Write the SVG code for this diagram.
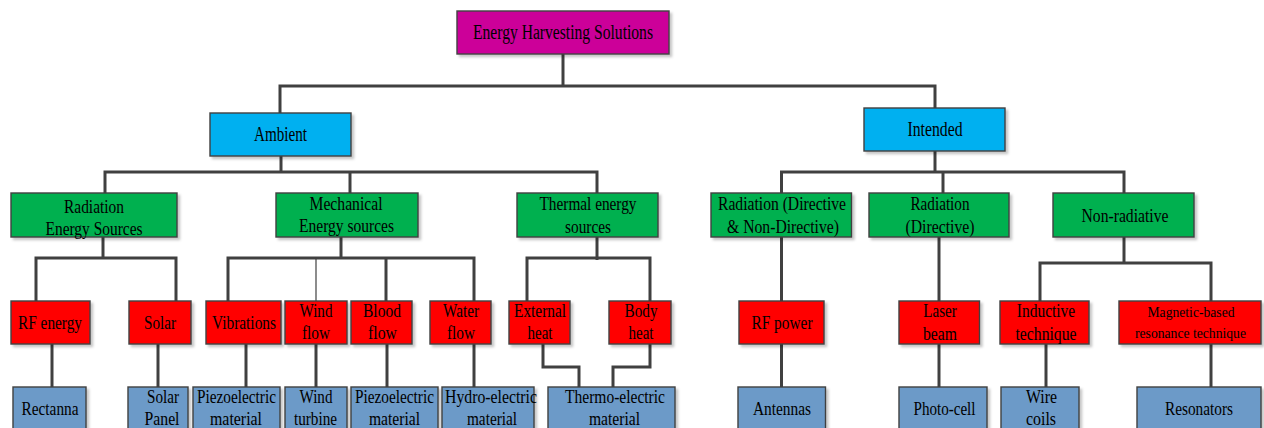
<svg xmlns="http://www.w3.org/2000/svg" width="1264" height="428" viewBox="0 0 1264 428">
<defs>
<filter id="sh" x="-10%" y="-10%" width="130%" height="140%">
<feDropShadow dx="2.5" dy="2.5" stdDeviation="1.2" flood-color="#000" flood-opacity="0.22"/>
</filter>
<style>
rect{stroke:#404040;stroke-width:1.4;filter:url(#sh)}
.m{fill:#CC0099}.c{fill:#00B0F0}.g{fill:#00B050}.r{fill:#FF0000}.b{fill:#6C9AC8}
text{font-family:"Liberation Serif","Times New Roman",serif;font-size:19px;fill:#000;text-anchor:middle}
.t1{font-size:20px}.t2{font-size:20px}.sm{font-size:14.5px}
#connectors path{fill:none;stroke:#404040;stroke-width:3}
#connectors path.thin{stroke-width:1.2}
</style>
</defs>
<rect x="0" y="0" width="1264" height="428" fill="#fff" style="stroke:none;filter:none"/>
<g id="connectors">
<path d="M563,54 V86"/>
<path d="M280,113 V86 H935 V108"/>
<path d="M281,156 V172"/>
<path d="M105,193 V172 H597 V193"/>
<path d="M350,172 V193"/>
<path d="M103,237 V258"/>
<path d="M36,301 V258 H176 V301"/>
<path d="M341,237 V258"/>
<path d="M228,301 V258 H474 V301"/>
<path d="M386,258 V301"/>
<path class="thin" d="M316,258 V301"/>
<path d="M597,237 V260"/>
<path d="M527,301 V258 H650 V301"/>
<path d="M935,151 V172"/>
<path d="M781.5,193 V172 H1124 V193"/>
<path d="M943,172 V193"/>
<path d="M781.5,237 V301"/>
<path d="M939,237 V301"/>
<path d="M1124,237 V263"/>
<path d="M1040,301 V263 H1211 V301"/>
<path d="M52,344 V387"/>
<path d="M158,344 V387"/>
<path d="M246,344 V387"/>
<path d="M316,344 V387"/>
<path d="M387,344 V387"/>
<path d="M474,344 V387"/>
<path d="M543,344 V367 H579 V387"/>
<path d="M650,344 V367 H613 V387"/>
<path d="M781.5,344 V387"/>
<path d="M939,344 V387"/>
<path d="M1046,344 V387"/>
<path d="M1211,344 V387"/>
</g>
<g id="n-root"><rect class="m" x="457" y="11" width="212" height="43"/><text class="t1" x="563" y="39" textLength="180" lengthAdjust="spacingAndGlyphs">Energy Harvesting Solutions</text></g>
<g id="n-ambient"><rect class="c" x="210" y="113" width="141" height="43"/><text class="t2" x="280.5" y="141" textLength="53" lengthAdjust="spacingAndGlyphs">Ambient</text></g>
<g id="n-intended"><rect class="c" x="864" y="108" width="141" height="43"/><text class="t2" x="935" y="136" textLength="55" lengthAdjust="spacingAndGlyphs">Intended</text></g>
<g id="n-radiation"><rect class="g" x="11" y="193" width="166" height="44"/><text x="94" y="213" textLength="60" lengthAdjust="spacingAndGlyphs">Radiation</text><text x="94" y="235" textLength="97" lengthAdjust="spacingAndGlyphs">Energy Sources</text></g>
<g id="n-mechanical"><rect class="g" x="276" y="193" width="142" height="44"/><text x="346" y="210" textLength="73" lengthAdjust="spacingAndGlyphs">Mechanical</text><text x="346.5" y="232" textLength="95" lengthAdjust="spacingAndGlyphs">Energy sources</text></g>
<g id="n-thermal"><rect class="g" x="517" y="193" width="141" height="44"/><text x="588" y="210" textLength="97" lengthAdjust="spacingAndGlyphs">Thermal energy</text><text x="588" y="233" textLength="46" lengthAdjust="spacingAndGlyphs">sources</text></g>
<g id="n-raddnd"><rect class="g" x="711" y="193" width="140.5" height="44"/><text x="782" y="210" textLength="128" lengthAdjust="spacingAndGlyphs">Radiation (Directive</text><text x="783" y="233" textLength="112" lengthAdjust="spacingAndGlyphs">&amp; Non-Directive)</text></g>
<g id="n-radd"><rect class="g" x="869" y="193" width="140" height="44"/><text x="940" y="210" textLength="59" lengthAdjust="spacingAndGlyphs">Radiation</text><text x="940" y="233" textLength="69" lengthAdjust="spacingAndGlyphs">(Directive)</text></g>
<g id="n-nonrad"><rect class="g" x="1053" y="193" width="141" height="44"/><text x="1125" y="222" textLength="87" lengthAdjust="spacingAndGlyphs">Non-radiative</text></g>
<g id="n-rfenergy"><rect class="r" x="11" y="301" width="79" height="43"/><text x="50" y="329" textLength="64" lengthAdjust="spacingAndGlyphs">RF energy</text></g>
<g id="n-solar"><rect class="r" x="129" y="301" width="62" height="43"/><text x="160" y="329" textLength="32" lengthAdjust="spacingAndGlyphs">Solar</text></g>
<g id="n-vibrations"><rect class="r" x="206" y="301" width="75" height="43"/><text x="244" y="329" textLength="64" lengthAdjust="spacingAndGlyphs">Vibrations</text></g>
<g id="n-windflow"><rect class="r" x="285" y="301" width="62" height="43"/><text x="316" y="317" textLength="33" lengthAdjust="spacingAndGlyphs">Wind</text><text x="316" y="339" textLength="28" lengthAdjust="spacingAndGlyphs">flow</text></g>
<g id="n-bloodflow"><rect class="r" x="351" y="301" width="61" height="43"/><text x="382" y="317" textLength="38" lengthAdjust="spacingAndGlyphs">Blood</text><text x="382.5" y="339" textLength="29" lengthAdjust="spacingAndGlyphs">flow</text></g>
<g id="n-waterflow"><rect class="r" x="430" y="301" width="61" height="43"/><text x="461" y="317" textLength="36" lengthAdjust="spacingAndGlyphs">Water</text><text x="461" y="339" textLength="28" lengthAdjust="spacingAndGlyphs">flow</text></g>
<g id="n-external"><rect class="r" x="509" y="301" width="61" height="43"/><text x="540" y="317" textLength="52" lengthAdjust="spacingAndGlyphs">External</text><text x="540" y="339" textLength="25" lengthAdjust="spacingAndGlyphs">heat</text></g>
<g id="n-body"><rect class="r" x="609" y="301" width="62" height="43"/><text x="641" y="317" textLength="33" lengthAdjust="spacingAndGlyphs">Body</text><text x="641" y="339" textLength="25" lengthAdjust="spacingAndGlyphs">heat</text></g>
<g id="n-rfpower"><rect class="r" x="739" y="301" width="85" height="43"/><text x="782" y="329" textLength="61" lengthAdjust="spacingAndGlyphs">RF power</text></g>
<g id="n-laser"><rect class="r" x="899" y="301" width="80.5" height="43"/><text x="940" y="317" textLength="33.5" lengthAdjust="spacingAndGlyphs">Laser</text><text x="940" y="340" textLength="34" lengthAdjust="spacingAndGlyphs">beam</text></g>
<g id="n-inductive"><rect class="r" x="1000" y="301" width="89" height="43"/><text x="1046" y="317" textLength="58.5" lengthAdjust="spacingAndGlyphs">Inductive</text><text x="1046" y="340" textLength="61" lengthAdjust="spacingAndGlyphs">technique</text></g>
<g id="n-magnetic"><rect class="r" x="1119" y="301" width="142" height="43"/><text class="sm" x="1191" y="317" textLength="87" lengthAdjust="spacingAndGlyphs">Magnetic-based</text><text class="sm" x="1190.5" y="338" textLength="111" lengthAdjust="spacingAndGlyphs">resonance technique</text></g>
<g id="n-rectanna"><rect class="b" x="13" y="387" width="73" height="44"/><text x="50" y="415" textLength="57" lengthAdjust="spacingAndGlyphs">Rectanna</text></g>
<g id="n-solarpanel"><rect class="b" x="128" y="387" width="60" height="44"/><text x="163" y="403" textLength="32" lengthAdjust="spacingAndGlyphs">Solar</text><text x="162" y="425" textLength="35" lengthAdjust="spacingAndGlyphs">Panel</text></g>
<g id="n-piezo1"><rect class="b" x="193" y="387" width="87" height="44"/><text x="236.5" y="403" textLength="79" lengthAdjust="spacingAndGlyphs">Piezoelectric</text><text x="236" y="425" textLength="52" lengthAdjust="spacingAndGlyphs">material</text></g>
<g id="n-windturbine"><rect class="b" x="285" y="387" width="62" height="44"/><text x="316" y="403" textLength="33" lengthAdjust="spacingAndGlyphs">Wind</text><text x="315.5" y="425" textLength="43" lengthAdjust="spacingAndGlyphs">turbine</text></g>
<g id="n-piezo2"><rect class="b" x="351" y="387" width="87" height="44"/><text x="394.5" y="403" textLength="79" lengthAdjust="spacingAndGlyphs">Piezoelectric</text><text x="394.5" y="425" textLength="51" lengthAdjust="spacingAndGlyphs">material</text></g>
<g id="n-hydro"><rect class="b" x="442" y="387" width="92" height="44"/><text x="491" y="403" textLength="92" lengthAdjust="spacingAndGlyphs">Hydro-electric</text><text x="492" y="425" textLength="50" lengthAdjust="spacingAndGlyphs">material</text></g>
<g id="n-thermo"><rect class="b" x="548" y="387" width="127" height="44"/><text x="615" y="403" textLength="100" lengthAdjust="spacingAndGlyphs">Thermo-electric</text><text x="614.5" y="425" textLength="51" lengthAdjust="spacingAndGlyphs">material</text></g>
<g id="n-antennas"><rect class="b" x="738" y="387" width="87.5" height="44"/><text x="782" y="415" textLength="58" lengthAdjust="spacingAndGlyphs">Antennas</text></g>
<g id="n-photocell"><rect class="b" x="899" y="387" width="88" height="44"/><text x="944.5" y="415" textLength="62" lengthAdjust="spacingAndGlyphs">Photo-cell</text></g>
<g id="n-wirecoils"><rect class="b" x="1001" y="387" width="78" height="44"/><text x="1041.5" y="403" textLength="31" lengthAdjust="spacingAndGlyphs">Wire</text><text x="1041" y="425" textLength="30" lengthAdjust="spacingAndGlyphs">coils</text></g>
<g id="n-resonators"><rect class="b" x="1137" y="387" width="124" height="44"/><text x="1199" y="415" textLength="68" lengthAdjust="spacingAndGlyphs">Resonators</text></g>
</svg>
